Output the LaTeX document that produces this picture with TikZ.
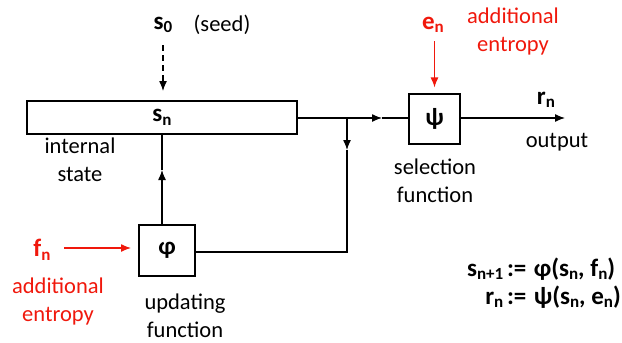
\documentclass[tikz,border=0pt]{standalone}
\usepackage{fontspec}
\setmainfont{Carlito}
\usetikzlibrary{arrows.meta}
\definecolor{entropy}{RGB}{240,24,12}
% bold symbol with a lowered, smaller subscript
\newcommand\symsub[2]{{\fontsize{25}{28}\selectfont\textbf{#1\raisebox{-0.3ex}{\fontsize{17}{17}\selectfont #2}}}}
\newcommand\bsym[1]{{\fontsize{25}{28}\selectfont\textbf{#1}}}
\begin{document}
\begin{tikzpicture}[x=1pt,y=1pt,
  every node/.style={font=\fontsize{22.5}{28}\selectfont, inner sep=0pt},
  box/.style={draw, line width=1.1pt, fill=white},
  wire/.style={line width=1.3pt},
  tip/.style={wire, -{Latex[length=10pt,width=8pt]}},
  label/.style={align=center},
  redlabel/.style={align=center, text=entropy}]
\useasboundingbox (0,0) rectangle (622,-343);

% blocks
\node[box, minimum width=270, minimum height=33] (state) at (162,-117.5) {\symsub{s}{n}};
\node[box, minimum width=56, minimum height=51] (phi) at (167,-250.5) {\bsym{φ}};
\node[box, minimum width=51, minimum height=50] (psi) at (434.5,-119) {\bsym{ψ}};

% seed
\node (s0) at (163,-25) {\symsub{s}{0}};
\node (seed) at (222,-25) {(seed)};
\coordinate (s0a) at (163,-45);
\coordinate (s0b) at (163,-91);
\draw[tip, dashed, dash pattern=on 6pt off 4pt] (s0a) -- (s0b);

% labels
\node[label] (intl) at (80,-160) {internal\\state};
\node[label] (sell) at (435,-181) {selection\\function};
\node[label] (updl) at (185,-316) {updating\\function};
\node (outl) at (557,-142) {output};
\node (rn) at (546,-100) {\symsub{r}{n}};

% selection input
\node (en) at (433,-25) {\textcolor{entropy}{\symsub{e}{n}}};
\node[redlabel] (ent1) at (513,-31) {additional\\entropy};
\coordinate (ena) at (434.5,-41);
\draw[tip, draw=entropy] (ena) -- ([yshift=6pt]psi.north);

% updating input
\node (fn) at (42,-250) {\textcolor{entropy}{\symsub{f}{n}}};
\node[redlabel] (ent2) at (58,-301) {additional\\entropy};
\coordinate (fna) at (64,-248);
\coordinate (fnb) at (131,-248);
\draw[tip, draw=entropy] (fna) -- (fnb);

% state to selection, with branch
\coordinate (j) at (347,-118);
\coordinate (m1) at (382,-118);
\coordinate (m2) at (347,-150);
\coordinate (jb) at (347,-252);
\coordinate (po) at (565,-118);
\draw[tip] (state.east |- j) -- (m1);
\draw[wire] (m1) -- (psi.west |- j);
\draw[tip] (j) -- (m2);
\draw[wire] (m2) -- (jb) -- (phi.east |- jb);
\draw[tip] (psi.east |- po) -- (po);

% update back into state
\coordinate (u1) at (162,-225.5);
\coordinate (u2) at (162,-170);
\draw[tip] (u1) -- (u2);
\draw[wire] (u2) -- (state.south -| u2);

% equations
\node[anchor=east] (eqs) at (621,-284.5) {\begin{tabular}{@{}r@{\,\bsym{:=}\,\,}l@{}}
\symsub{s}{n+1} & \bsym{φ(}\symsub{s}{n}\bsym{, }\symsub{f}{n}\bsym{)}\\[0pt]
\symsub{r}{n} & \bsym{ψ(}\symsub{s}{n}\bsym{, }\symsub{e}{n}\bsym{)}
\end{tabular}};
\end{tikzpicture}
\end{document}
